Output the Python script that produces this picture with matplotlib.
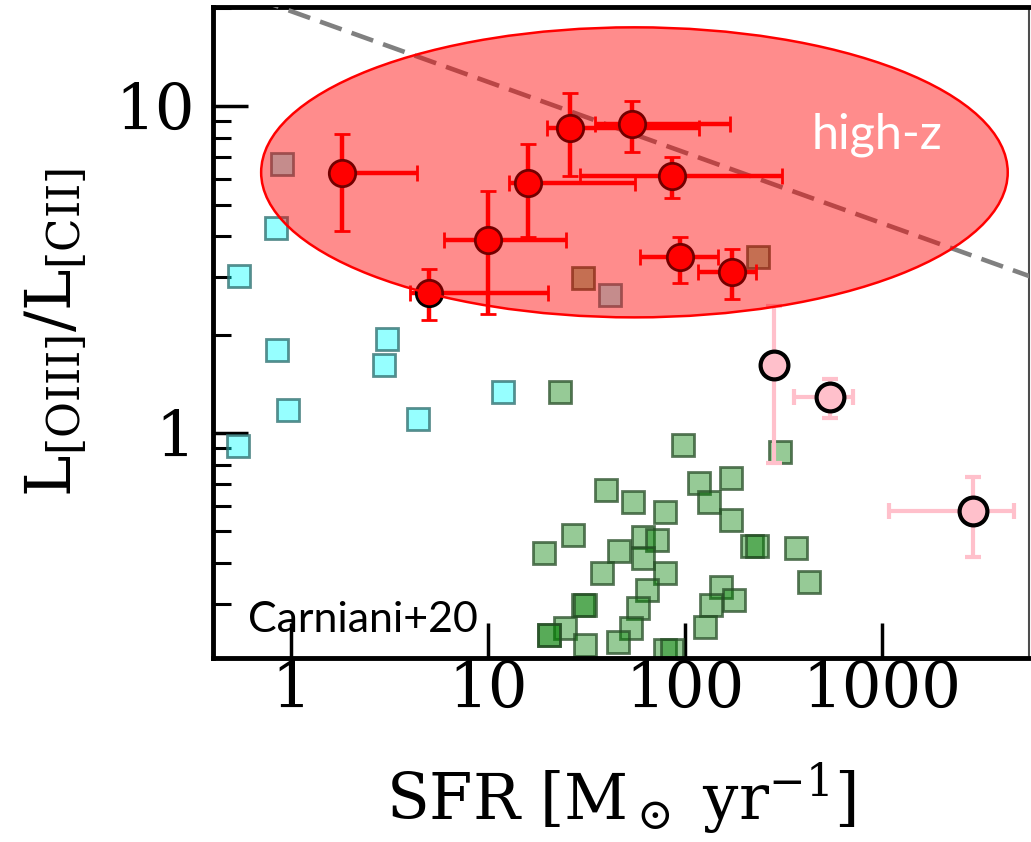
import matplotlib
matplotlib.use("Agg")
import matplotlib.pyplot as plt
import numpy as np
from matplotlib.patches import Ellipse
from matplotlib.ticker import FixedLocator, FuncFormatter, LogLocator, NullFormatter

# high-z [OIII]/[CII] detections (red)
hz_sfr = [1.81, 5.0, 10.0, 16.0, 26.1, 54.0, 86.4, 94.9, 174.5]
hz_ratio = [6.24, 2.68, 3.89, 5.81, 8.57, 8.81, 6.11, 3.45, 3.11]
hz_sfr_lo = [1.81, 4.0, 5.97, 12.8, 20.0, 35.0, 29.4, 59.4, 117.0]
hz_sfr_hi = [4.35, 20.2, 24.9, 56.0, 118.0, 170.0, 313.0, 148.0, 231.0]
hz_ratio_lo = [4.15, 2.22, 2.31, 3.98, 6.11, 7.23, 5.23, 2.87, 2.57]
hz_ratio_hi = [8.2, 3.17, 5.5, 7.65, 11.0, 10.4, 6.98, 3.98, 3.65]

# pink circles
pk_sfr = [285.0, 544.0, 2904.0]
pk_ratio = [1.614, 1.289, 0.577]
pk_sfr_lo = [285.0, 357.0, 1086.0]
pk_sfr_hi = [285.0, 712.0, 4697.0]
pk_ratio_lo = [0.81, 1.11, 0.418]
pk_ratio_hi = [2.45, 1.463, 0.734]

# local dwarfs (cyan squares)
dw_sfr = [0.895, 0.834, 0.541, 0.844, 0.96, 3.06, 2.96, 4.40, 11.9, 0.534, 41.8]
dw_ratio = [6.65, 4.24, 3.02, 1.79, 1.18, 1.94, 1.61, 1.10, 1.335, 0.912, 2.64]

# local galaxies (green squares)
lg_sfr = [23.2, 39.8, 54.7, 79.6, 98.2, 306, 118.5, 171, 132, 171,
          27.1, 19.3, 46.4, 61.5, 72.4, 61.5, 38.1, 79.6, 64.4, 30.4,
          31.2, 58.0, 24.6, 20.4, 20.4, 53.5, 31.2, 45.9, 79.6, 218,
          232, 365, 425, 152, 177, 135, 127, 86.3, 30.4, 234]
lg_ratio = [1.335, 0.669, 0.615, 0.573, 0.919, 0.875, 0.703, 0.728, 0.615, 0.542,
            0.488, 0.430, 0.436, 0.481, 0.471, 0.415, 0.373, 0.373, 0.331, 0.298,
            0.298, 0.292, 0.253, 0.241, 0.241, 0.253, 0.225, 0.230, 0.217, 0.451,
            0.451, 0.445, 0.350, 0.338, 0.309, 0.298, 0.255, 0.217, 2.98, 3.45]

# dashed relation: ratio = norm * SFR**slope
line_norm = 19.5
line_slope = -0.216

x_ticks = [1, 10, 100, 1000]
y_ticks = [1, 10]


def asym(c, lo, hi):
    c = np.asarray(c)
    return [c - np.asarray(lo), np.asarray(hi) - c]


plt.rcParams["font.family"] = "DejaVu Serif"
plt.rcParams["mathtext.fontset"] = "dejavuserif"

fig = plt.figure(figsize=(10.31, 8.42), dpi=100)
ax = fig.add_axes([0.2066, 0.2185, 0.7914, 0.7732])
ax.set_xscale("log")
ax.set_yscale("log")
ax.set_xlim(0.4, 5600)
ax.set_ylim(0.205, 20.1)

ax.plot(dw_sfr, dw_ratio, "s", ms=16, mfc=(0, 1, 1, 0.41),
        mec=(0.2, 0.45, 0.45, 0.8), mew=2, zorder=2)
ax.plot(lg_sfr, lg_ratio, "s", ms=16, mfc=(0, 0.5, 0, 0.41),
        mec=(0.15, 0.3, 0.15, 0.75), mew=2, zorder=2)

xs = np.logspace(np.log10(0.4), np.log10(6000), 200)
ax.plot(xs, line_norm * xs ** line_slope, color="gray", lw=3.3,
        dashes=(5, 2.3), zorder=3)

ax.errorbar(pk_sfr, pk_ratio, xerr=asym(pk_sfr, pk_sfr_lo, pk_sfr_hi),
            yerr=asym(pk_ratio, pk_ratio_lo, pk_ratio_hi), fmt="o",
            ms=20, mfc="pink", mec="black", mew=3, ecolor="pink",
            elinewidth=3, capsize=6, capthick=3, zorder=3)
ax.errorbar(hz_sfr, hz_ratio, xerr=asym(hz_sfr, hz_sfr_lo, hz_sfr_hi),
            yerr=asym(hz_ratio, hz_ratio_lo, hz_ratio_hi), fmt="o",
            ms=19, mfc="red", mec="black", mew=2, ecolor="red",
            elinewidth=3.2, capsize=6, capthick=3.2, zorder=4)

ell = Ellipse((0.5165, 0.746), 0.915, 0.4455, transform=ax.transAxes,
              facecolor=(1, 0, 0, 0.45), edgecolor="red", lw=1.8, zorder=5)
ax.add_patch(ell)

ax.text(0.814, 0.783, "high-z", transform=ax.transAxes, color="white",
        fontsize=35, family="Lato", ha="center", va="baseline", zorder=6)
ax.text(0.043, 0.040, "Carniani+20", transform=ax.transAxes, color="black",
        fontsize=31, family="Lato", ha="left", va="baseline", zorder=6)

fmt = FuncFormatter(lambda v, p: f"{v:g}")
ax.xaxis.set_major_locator(FixedLocator(x_ticks))
ax.xaxis.set_major_formatter(fmt)
ax.xaxis.set_minor_locator(FixedLocator([]))
ax.yaxis.set_major_locator(FixedLocator(y_ticks))
ax.yaxis.set_major_formatter(fmt)
ax.yaxis.set_minor_locator(LogLocator(subs=np.arange(2, 10), numticks=20))
ax.yaxis.set_minor_formatter(NullFormatter())

ax.tick_params(which="major", direction="in", length=25, width=2.5,
               labelsize=45)
ax.tick_params(which="minor", direction="in", length=13, width=2.2)
ax.tick_params(axis="x", pad=1)
ax.tick_params(axis="y", pad=13)

for side in ("left", "bottom", "top"):
    ax.spines[side].set_linewidth(3.5)
ax.spines["right"].set_linewidth(1.5)
ax.spines["right"].set_color("0.3")

ax.set_xlabel(r"SFR [M$_\odot$ yr$^{-1}$]", fontsize=45)
ax.set_ylabel(r"$\mathrm{L_{[OIII]}/L_{[CII]}}$", fontsize=45)
ax.xaxis.set_label_coords(0.5, -0.157)
ax.yaxis.set_label_coords(-0.151, 0.5)

fig.savefig("out.png", dpi=100)
